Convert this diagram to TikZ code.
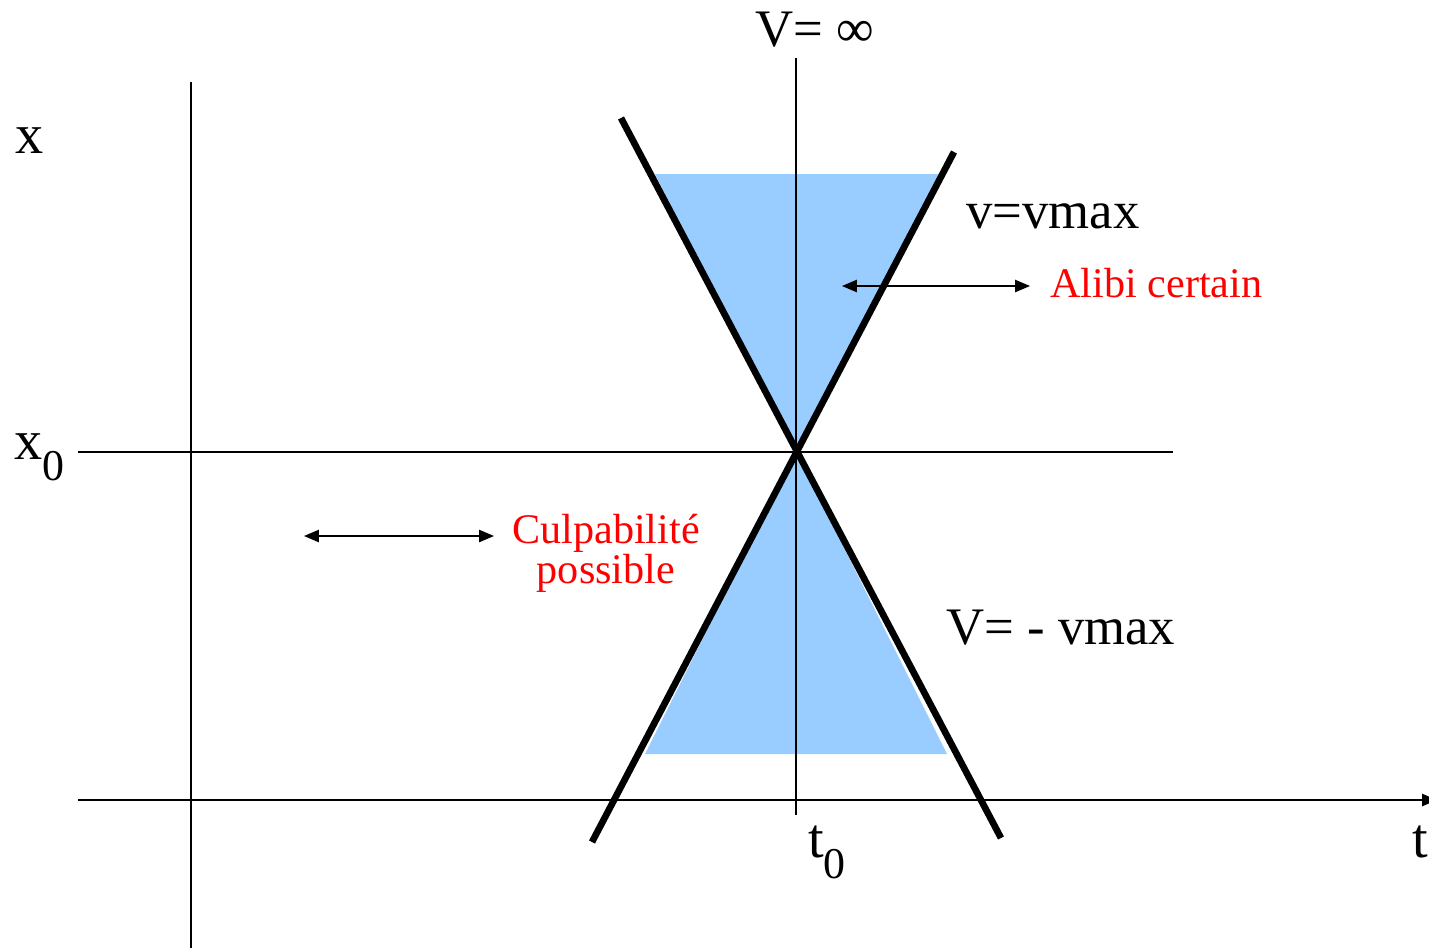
\documentclass[tikz,border=0pt]{standalone}
\usepackage{fontspec}
\setmainfont{Liberation Serif}
\usepackage{xcolor}
\usepackage{tikz}
\usetikzlibrary{positioning, arrows.meta}
\definecolor{conefill}{HTML}{99CCFF}
\newcommand{\lowsub}[1]{\raisebox{-12pt}{\fontsize{25}{25}\selectfont #1}}

\begin{document}
\begin{tikzpicture}[
    x=0.02cm, y=-0.02cm,
    axis/.style={draw=black, line width=0.85pt},
    bound/.style={draw=black, line width=3.8pt},
    cone/.style={fill=conefill},
    span/.style={line width=0.85pt, {Triangle[length=8.5pt, width=7pt]}-{Triangle[length=8.5pt, width=7pt]}},
    biglabel/.style={inner sep=0pt, font=\fontsize{30}{30}\selectfont},
    redlabel/.style={inner sep=0pt, text=red, font=\fontsize{24}{20}\selectfont, align=center}
]
    \useasboundingbox (0,0) rectangle (1429,948);

    % Points
    \coordinate (O)    at (796,452);
    \coordinate (xtop) at (191,82);
    \coordinate (xbot) at (191,948);
    \coordinate (tl)   at (78,800);
    \coordinate (tr)   at (1437,800);
    \coordinate (x0l)  at (78,452);
    \coordinate (x0r)  at (1173,452);
    \coordinate (t0t)  at (796,58);
    \coordinate (t0b)  at (796,815);
    \coordinate (Ptop) at (621,118);
    \coordinate (Pbot) at (1001,838);
    \coordinate (Mtop) at (954,152);
    \coordinate (Mbot) at (592,842);

    % Cones
    \fill[cone] (655,174) -- (940,174) -- (O) -- cycle;
    \fill[cone] (645,754) -- (947,754) -- (O) -- cycle;

    % Axes
    \draw[axis] (xtop) -- (xbot);
    \draw[axis, -{Triangle[length=8.5pt, width=7pt]}] (tl) -- (tr);
    \draw[axis] (x0l) -- (x0r);
    \draw[axis] (t0t) -- (t0b);

    % Speed limits
    \draw[bound] (Ptop) -- (Pbot);
    \draw[bound] (Mtop) -- (Mbot);

    % Labels
    \node[biglabel, anchor=base] (vinf) at (815,46) {V= ∞};
    \node[biglabel, anchor=base, font=\fontsize{32}{32}\selectfont] (xlab) at (30,153) {x};
    \node[biglabel, anchor=base west, font=\fontsize{32}{32}\selectfont] (x0lab) at (14,459) {x\lowsub{0}};
    \node[biglabel, anchor=base west, font=\fontsize{32}{32}\selectfont] (t0lab) at (808,857) {t\lowsub{0}};
    \node[biglabel, anchor=base west, font=\fontsize{32}{32}\selectfont] (tlab) at (1412,857) {t};
    \node[biglabel, anchor=base west] (vmax) at (966,228) {v=vmax};
    \node[biglabel, anchor=base west] (vmin) at (946,644) {V= - vmax};
    \node[redlabel, anchor=base west] (alibi) at (1050,297) {Alibi certain};
    \node[redlabel, anchor=north] (culpa) at (606,514) {Culpabilité\\possible};

    % Zones
    \coordinate (a1) at (842,286);
    \coordinate (a2) at (1030,286);
    \coordinate (c1) at (304,536);
    \coordinate (c2) at (494,536);
    \draw[span] (a1) -- (a2);
    \draw[span] (c1) -- (c2);

\end{tikzpicture}
\end{document}
